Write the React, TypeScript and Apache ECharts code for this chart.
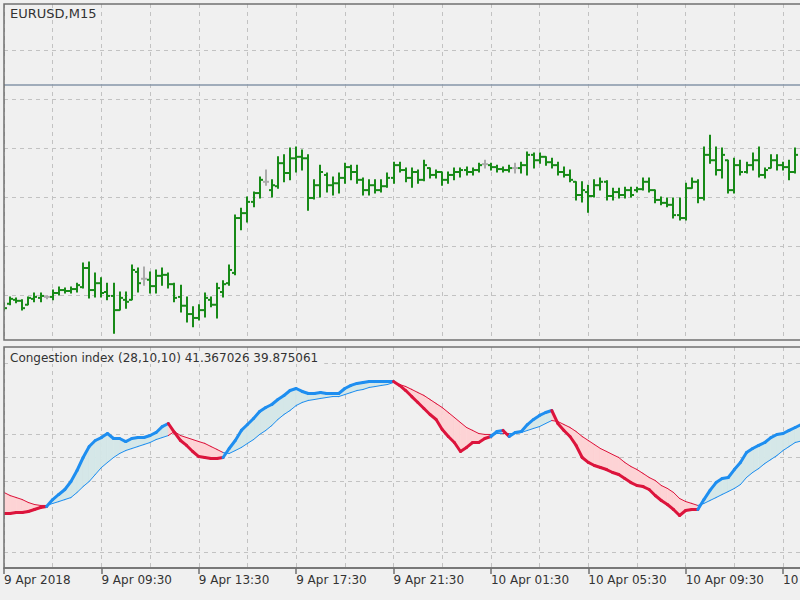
import React, { useEffect, useRef } from "react";
import * as echarts from "echarts";

// ---------- texts ----------
const SYMBOL_TITLE = "EURUSD,M15";
const INDICATOR_TITLE = "Congestion index (28,10,10) 41.367026 39.875061";
const FIRST_LABEL = "9 Apr 2018";

// ---------- time categories (M15 bars from 9 Apr 05:30) ----------
const START_DAY = 9;
const START_MIN = 5 * 60 + 30;
const STEP_MIN = 15;
const BAR_COUNT = 132;
const TIMES: string[] = [];
for (let i = 0; i < BAR_COUNT; i++) {
  const t = START_MIN + STEP_MIN * i;
  const day = START_DAY + Math.floor(t / 1440);
  const m = t % 1440;
  TIMES.push(
    `${day} Apr ${String(Math.floor(m / 60)).padStart(2, "0")}:${String(m % 60).padStart(2, "0")}`
  );
}

// ---------- price bars ----------
const OPEN = [
  1.22678, 1.22682, 1.2269, 1.22688, 1.2268, 1.22692, 1.22694, 1.22696, 1.22696, 1.22704,
  1.2271, 1.22708, 1.22712, 1.22716, 1.22755, 1.2271, 1.22724, 1.22706, 1.22698, 1.22669,
  1.2269, 1.2269, 1.22747, 1.22733, 1.22731, 1.22718, 1.22739, 1.22741, 1.22722, 1.22696,
  1.22678, 1.22661, 1.22653, 1.22669, 1.2269, 1.2268, 1.22706, 1.22724, 1.22745, 1.22857,
  1.22867, 1.2289, 1.22908, 1.22931, 1.22914, 1.22922, 1.22969, 1.22949, 1.22979, 1.22982,
  1.22979, 1.22898, 1.22924, 1.22945, 1.22924, 1.22928, 1.22939, 1.22961, 1.22951, 1.22935,
  1.22914, 1.22924, 1.22914, 1.22922, 1.22939, 1.22965, 1.22955, 1.22939, 1.22951, 1.22935,
  1.22959, 1.22945, 1.22951, 1.22935, 1.22945, 1.22951, 1.22955, 1.22951, 1.22955, 1.22967,
  1.22965, 1.22961, 1.22957, 1.22955, 1.22959, 1.22959, 1.22965, 1.22986, 1.22975, 1.22982,
  1.22971, 1.22965, 1.22951, 1.22945, 1.22931, 1.22904, 1.2291, 1.22902, 1.22924, 1.22931,
  1.22902, 1.2291, 1.22904, 1.22914, 1.22914, 1.22916, 1.22931, 1.22914, 1.22894, 1.22888,
  1.22884, 1.22863, 1.22857, 1.22918, 1.22931, 1.22898, 1.22986, 1.22975, 1.22955, 1.22975,
  1.22914, 1.22965, 1.22951, 1.22965, 1.22975, 1.22945, 1.22959, 1.22975, 1.22965, 1.22961,
  1.22951,
];
const HIGH = [
  1.22684, 1.22696, 1.22694, 1.2269, 1.22696, 1.22704, 1.22704, 1.22698, 1.2271, 1.22716,
  1.22714, 1.22716, 1.22724, 1.22765, 1.22767, 1.22745, 1.22735, 1.22724, 1.22724, 1.22706,
  1.22706, 1.22761, 1.22755, 1.22757, 1.22747, 1.22751, 1.22755, 1.22745, 1.22724, 1.2272,
  1.22696, 1.22676, 1.2268, 1.22704, 1.22696, 1.22724, 1.22729, 1.22761, 1.22863, 1.22877,
  1.229, 1.2291, 1.22941, 1.22955, 1.22935, 1.22982, 1.22986, 1.23, 1.23002, 1.22996,
  1.22986, 1.22935, 1.22965, 1.22949, 1.22941, 1.22949, 1.22969, 1.22965, 1.22965, 1.22939,
  1.22935, 1.22935, 1.22935, 1.22949, 1.22971, 1.22971, 1.22959, 1.22959, 1.22955, 1.22975,
  1.22959, 1.22955, 1.22951, 1.22951, 1.22959, 1.22959, 1.22961, 1.22959, 1.22969, 1.22975,
  1.22969, 1.22965, 1.22961, 1.22965, 1.22969, 1.22971, 1.22992, 1.2299, 1.2299, 1.22982,
  1.22979, 1.22971, 1.22961, 1.22955, 1.22931, 1.22931, 1.22924, 1.22935, 1.22939, 1.22933,
  1.22918, 1.22918, 1.2292, 1.2292, 1.2292, 1.22939, 1.22939, 1.22914, 1.229, 1.22898,
  1.22898, 1.22898, 1.22928, 1.22939, 1.22935, 1.23002, 1.23026, 1.23002, 1.23, 1.22975,
  1.22979, 1.22975, 1.22971, 1.2299, 1.23002, 1.22959, 1.22986, 1.22986, 1.22971, 1.22975,
  1.23,
];
const LOW = [
  1.22669, 1.2268, 1.22684, 1.22669, 1.2268, 1.22686, 1.22686, 1.22692, 1.2269, 1.227,
  1.22704, 1.22704, 1.22706, 1.22714, 1.22694, 1.22696, 1.22696, 1.2269, 1.22622, 1.22669,
  1.22673, 1.2269, 1.22706, 1.2272, 1.22704, 1.22704, 1.2272, 1.22714, 1.22686, 1.22665,
  1.22645, 1.22635, 1.22649, 1.22655, 1.22676, 1.22653, 1.22696, 1.2272, 1.22741, 1.22833,
  1.22849, 1.2288, 1.22898, 1.22924, 1.229, 1.22918, 1.22931, 1.22935, 1.22951, 1.22955,
  1.22873, 1.22896, 1.229, 1.2291, 1.22904, 1.22908, 1.22928, 1.22935, 1.22928, 1.22904,
  1.22904, 1.22908, 1.2291, 1.2292, 1.22928, 1.22951, 1.22931, 1.2292, 1.22928, 1.22933,
  1.22939, 1.22939, 1.22924, 1.22928, 1.22935, 1.22941, 1.22945, 1.22945, 1.22951, 1.22959,
  1.22955, 1.22951, 1.22951, 1.22951, 1.22949, 1.22949, 1.22945, 1.22959, 1.22969, 1.22965,
  1.22959, 1.22945, 1.22941, 1.22931, 1.22894, 1.2289, 1.22869, 1.229, 1.22914, 1.22894,
  1.22894, 1.22898, 1.22898, 1.229, 1.2291, 1.22914, 1.2291, 1.22888, 1.22884, 1.2288,
  1.22857, 1.22853, 1.22853, 1.22918, 1.22888, 1.22894, 1.22969, 1.22945, 1.22939, 1.22908,
  1.22908, 1.22945, 1.22949, 1.22955, 1.22941, 1.22939, 1.22959, 1.22955, 1.22955, 1.22935,
  1.22949,
];
const CLOSE = [
  1.22673, 1.22692, 1.22688, 1.22673, 1.22694, 1.22696, 1.22698, 1.22696, 1.22704, 1.2271,
  1.22708, 1.22712, 1.2272, 1.22755, 1.2271, 1.22724, 1.22704, 1.22698, 1.22669, 1.22694,
  1.22686, 1.22751, 1.22724, 1.22733, 1.22718, 1.22739, 1.22741, 1.22722, 1.22694, 1.22678,
  1.22661, 1.22653, 1.22669, 1.22694, 1.2268, 1.22714, 1.22722, 1.22751, 1.22857, 1.22867,
  1.2289, 1.22908, 1.22935, 1.22931, 1.22924, 1.22969, 1.22949, 1.22979, 1.22982, 1.22979,
  1.22898, 1.22924, 1.22951, 1.22924, 1.22928, 1.22939, 1.22961, 1.22951, 1.22935, 1.22914,
  1.22924, 1.22914, 1.22922, 1.22939, 1.22965, 1.22955, 1.22939, 1.22951, 1.22935, 1.22965,
  1.22945, 1.22951, 1.22935, 1.22945, 1.22951, 1.22955, 1.22951, 1.22955, 1.22965, 1.22967,
  1.22961, 1.22957, 1.22955, 1.22959, 1.22959, 1.22965, 1.22986, 1.22975, 1.22982, 1.22971,
  1.22965, 1.22951, 1.22945, 1.22935, 1.22904, 1.22914, 1.22902, 1.22924, 1.22931, 1.22902,
  1.2291, 1.22904, 1.22914, 1.22904, 1.22916, 1.22931, 1.22914, 1.22894, 1.22888, 1.22884,
  1.22863, 1.22857, 1.22918, 1.22931, 1.22898, 1.22986, 1.22975, 1.22955, 1.22986, 1.22914,
  1.22965, 1.22951, 1.22965, 1.22975, 1.22945, 1.22955, 1.22975, 1.22965, 1.22961, 1.22951,
  1.22986,
];
const PRICE_GRID = [1.227, 1.228, 1.229, 1.23, 1.231, 1.232];
const PRICE_LINE = 1.23129;
const PRICE_MIN = 1.22608;
const PRICE_MAX = 1.23294;

// ---------- congestion index ----------
const CI = [
  -47.4, -47.4, -46.6, -46.6, -45.7, -44.0, -42.3, -41.5, -35.6, -31.3,
  -27.1, -20.3, -11.0, 0, 9.3, 14.4, 16.9, 20.3, 16.1, 16.1,
  13.5, 16.1, 16.9, 16.9, 18.6, 21.2, 26.2, 28.8, 21.2, 14.4,
  10.2, 5.1, 0.8, 0, -0.8, -0.8, 0, 7.6, 14.4, 22.9,
  27.9, 33.0, 38.9, 42.3, 44.9, 49.1, 52.5, 56.7, 58.4, 55.9,
  54.2, 54.2, 55.0, 54.2, 54.2, 54.2, 58.4, 61.0, 62.7, 63.5,
  64.3, 64.3, 64.3, 64.3, 64.3, 61.0, 56.7, 51.6, 46.6, 41.5,
  36.4, 32.2, 23.7, 17.8, 12.7, 5.1, 8.5, 12.7, 12.7, 16.1,
  17.8, 22.0, 22.9, 17.8, 21.2, 22.0, 27.9, 32.2, 35.6, 38.1,
  39.8, 28.8, 22.9, 17.8, 10.2, 0, -4.2, -6.8, -8.5, -10.2,
  -12.7, -14.4, -17.8, -21.2, -23.7, -24.6, -27.1, -32.2, -36.4, -39.8,
  -44.0, -49.1, -44.9, -44.0, -44.0, -35.6, -27.9, -21.2, -17.8, -16.9,
  -10.2, -4.2, 4.2, 7.6, 10.2, 12.7, 16.9, 19.5, 20.3, 22.9,
  25.4, 27.9,
];
const SIGNAL = [
  -29.6, -32.2, -33.9, -35.6, -38.1, -39.8, -40.6, -40.6, -38.9, -37.3,
  -35.6, -33.9, -29.6, -24.6, -20.3, -14.4, -8.5, -4.2, 0, 3.4,
  5.9, 7.6, 9.3, 11.0, 12.7, 15.2, 16.9, 18.6, 22.0, 18.6,
  16.9, 15.2, 13.5, 11.9, 9.3, 6.8, 4.2, 3.4, 5.9, 8.5,
  11.9, 15.2, 19.5, 22.9, 27.1, 32.2, 36.4, 39.8, 44.0, 46.6,
  48.3, 49.1, 50.0, 50.8, 51.6, 51.6, 53.3, 55.0, 56.7, 57.6,
  59.3, 60.1, 61.0, 61.8, 63.5, 61.8, 60.1, 57.6, 55.0, 52.5,
  49.1, 45.7, 42.3, 38.1, 33.9, 29.6, 25.4, 22.9, 20.3, 19.5,
  19.5, 20.3, 20.3, 20.3, 20.3, 21.2, 22.9, 24.6, 26.2, 28.8,
  31.3, 30.5, 27.9, 25.4, 22.0, 17.8, 14.4, 11.0, 7.6, 5.1,
  2.5, 0, -4.2, -7.6, -10.2, -13.5, -16.9, -19.5, -23.7, -26.2,
  -29.6, -34.7, -37.3, -38.9, -40.6, -38.9, -36.4, -33.9, -31.3, -28.8,
  -26.2, -22.9, -16.9, -12.7, -9.3, -5.1, -1.7, 1.7, 5.9, 9.3,
  12.7, 14.0,
];
const CI_LEVELS = [80, 20, 0, -20, -80];
const CI_MIN = -93.55;
const CI_MAX = 93.55;

// ---------- styles ----------
const FONT = "DejaVu Sans";
const BG = "#f0f0f0";
const FRAME = "#707070";
const TEXT = "#333333";
const BAR_COLOR = "#178a17";
const DOJI_COLOR = "#ababab";
const UP_COLOR = "#1e8ef0";
const DOWN_COLOR = "#dc143c";
const FILL_UP = "#d5e7e8";
const FILL_DOWN = "#fdd3d5";
const GRID_STYLE = { color: "#c2c2c2", type: [4, 4], width: 1 };

const renderBar = (_p: any, api: any) => {
  const i = api.value(0);
  const o = api.value(1);
  const h = api.value(2);
  const l = api.value(3);
  const c = api.value(4);
  const pH = api.coord([i, h]);
  const pL = api.coord([i, l]);
  const pO = api.coord([i, o]);
  const pC = api.coord([i, c]);
  const x = Math.round(pH[0]);
  const st = { stroke: o === c ? DOJI_COLOR : BAR_COLOR, lineWidth: 2 };
  return {
    type: "group",
    children: [
      { type: "line", shape: { x1: x, y1: pH[1] - 0.5, x2: x, y2: pL[1] + 0.5 }, style: st },
      { type: "line", shape: { x1: x - 3, y1: pO[1], x2: x, y2: pO[1] }, style: st },
      { type: "line", shape: { x1: x, y1: pC[1], x2: x + 3, y2: pC[1] }, style: st },
    ],
  };
};

const renderBand = (_p: any, api: any) => {
  const i = api.value(0);
  const a1 = api.coord([i, api.value(1)]);
  const b1 = api.coord([i, api.value(2)]);
  const a2 = api.coord([i + 1, api.value(3)]);
  const b2 = api.coord([i + 1, api.value(4)]);
  const fill = api.value(3) >= api.value(4) ? FILL_UP : FILL_DOWN;
  return {
    type: "polygon",
    shape: { points: [a1, a2, b2, b1] },
    style: { fill, stroke: fill, lineWidth: 0.6 },
  };
};

const makeSegment = (which: 1 | 2, width: number) => (_p: any, api: any) => {
  const i = api.value(0);
  const p1 = api.coord([i, api.value(which)]);
  const p2 = api.coord([i + 1, api.value(which + 2)]);
  const color = api.value(3) >= api.value(4) ? UP_COLOR : DOWN_COLOR;
  return {
    type: "line",
    shape: { x1: p1[0], y1: p1[1], x2: p2[0], y2: p2[1] },
    style: { stroke: color, lineWidth: width, lineCap: "round" },
  };
};

export default function App() {
  const ref = useRef<HTMLDivElement>(null);

  useEffect(() => {
    if (!ref.current) return;
    const chart = echarts.init(ref.current, undefined, { renderer: "svg" });

    const barData = OPEN.map((o, i) => [i, o, HIGH[i], LOW[i], CLOSE[i]]);
    const bandData: number[][] = [];
    for (let i = 0; i < CI.length - 1; i++) {
      bandData.push([i, CI[i], SIGNAL[i], CI[i + 1], SIGNAL[i + 1]]);
    }

    const option: any = {
      backgroundColor: BG,
      animation: false,
      grid: [
        { left: 4, top: 4, width: 797.3, height: 336, containLabel: false, outerBoundsMode: "none" },
        { left: 4, top: 347, width: 797.3, height: 221, containLabel: false, outerBoundsMode: "none" },
      ],
      xAxis: [
        {
          type: "category",
          gridIndex: 0,
          data: TIMES,
          boundaryGap: false,
          axisLine: { show: false, onZero: false },
          axisTick: { show: false },
          axisLabel: { show: false },
          splitLine: { show: true, interval: (i: number) => i % 8 === 0, lineStyle: GRID_STYLE },
        },
        {
          type: "category",
          gridIndex: 1,
          data: TIMES,
          boundaryGap: false,
          axisLine: { show: true, onZero: false, lineStyle: { color: FRAME, width: 1.5 } },
          axisTick: {
            show: true,
            interval: (i: number) => i % 16 === 0,
            length: 6,
            lineStyle: { color: FRAME, width: 1.5 },
          },
          axisLabel: {
            show: true,
            interval: (i: number) => i % 16 === 0,
            formatter: (v: string, i: number) => (i === 0 ? FIRST_LABEL : v),
            align: "left",
            margin: 6,
            color: TEXT,
            fontFamily: FONT,
            fontSize: 12,
          },
          splitLine: { show: true, interval: (i: number) => i % 8 === 0, lineStyle: GRID_STYLE },
        },
      ],
      yAxis: [
        {
          type: "value",
          gridIndex: 0,
          min: PRICE_MIN,
          max: PRICE_MAX,
          axisLine: { show: false },
          axisTick: { show: false },
          axisLabel: { show: false },
          splitLine: { show: false },
        },
        {
          type: "value",
          gridIndex: 1,
          min: CI_MIN,
          max: CI_MAX,
          axisLine: { show: false },
          axisTick: { show: false },
          axisLabel: { show: false },
          splitLine: { show: false },
        },
      ],
      series: [
        {
          type: "line",
          xAxisIndex: 0,
          yAxisIndex: 0,
          data: [],
          silent: true,
          z: 1,
          markLine: {
            silent: true,
            z: 1,
            precision: 6,
            symbol: ["none", "none"],
            label: { show: false },
            data: [
              ...PRICE_GRID.map((v) => ({ yAxis: v, lineStyle: GRID_STYLE })),
              { yAxis: PRICE_LINE, lineStyle: { color: "#8696a8", type: "solid", width: 1.5 } },
            ],
          },
        },
        {
          type: "custom",
          xAxisIndex: 0,
          yAxisIndex: 0,
          renderItem: renderBar,
          data: barData,
          encode: { x: 0, y: [1, 2, 3, 4] },
          clip: true,
          z: 6,
          silent: true,
        },
        {
          type: "line",
          xAxisIndex: 1,
          yAxisIndex: 1,
          data: [],
          silent: true,
          z: 1,
          markLine: {
            silent: true,
            z: 1,
            precision: 6,
            symbol: ["none", "none"],
            label: { show: false },
            data: CI_LEVELS.map((v) => ({ yAxis: v, lineStyle: GRID_STYLE })),
          },
        },
        {
          type: "custom",
          xAxisIndex: 1,
          yAxisIndex: 1,
          renderItem: renderBand,
          data: bandData,
          encode: { x: 0, y: [1, 2] },
          clip: true,
          z: 6,
          silent: true,
        },
        {
          type: "custom",
          xAxisIndex: 1,
          yAxisIndex: 1,
          renderItem: makeSegment(2, 1),
          data: bandData,
          encode: { x: 0, y: [1, 2] },
          clip: true,
          z: 7,
          silent: true,
        },
        {
          type: "custom",
          xAxisIndex: 1,
          yAxisIndex: 1,
          renderItem: makeSegment(1, 3),
          data: bandData,
          encode: { x: 0, y: [1, 2] },
          clip: true,
          z: 8,
          silent: true,
        },
      ],
      graphic: [
        {
          type: "rect",
          z: 100,
          shape: { x: 4, y: 4, width: 830, height: 336 },
          style: { fill: "none", stroke: FRAME, lineWidth: 1.5 },
          silent: true,
        },
        {
          type: "rect",
          z: 100,
          shape: { x: 4, y: 347, width: 830, height: 221 },
          style: { fill: "none", stroke: FRAME, lineWidth: 1.5 },
          silent: true,
        },
        {
          type: "text",
          z: 101,
          x: 10,
          y: 7,
          style: {
            text: SYMBOL_TITLE,
            fill: TEXT,
            font: `13px "${FONT}"`,
            verticalAlign: "top",
          },
          silent: true,
        },
        {
          type: "text",
          z: 101,
          x: 9,
          y: 352,
          style: {
            text: INDICATOR_TITLE,
            fill: TEXT,
            font: `12px "${FONT}"`,
            verticalAlign: "top",
            backgroundColor: BG,
            padding: [0, 6, 0, 1],
          },
          silent: true,
        },
      ],
    };

    chart.setOption(option);
    return () => chart.dispose();
  }, []);

  return (
    <div
      ref={ref}
      style={{ position: "fixed", left: 0, top: 0, width: 800, height: 600, background: BG }}
    />
  );
}
